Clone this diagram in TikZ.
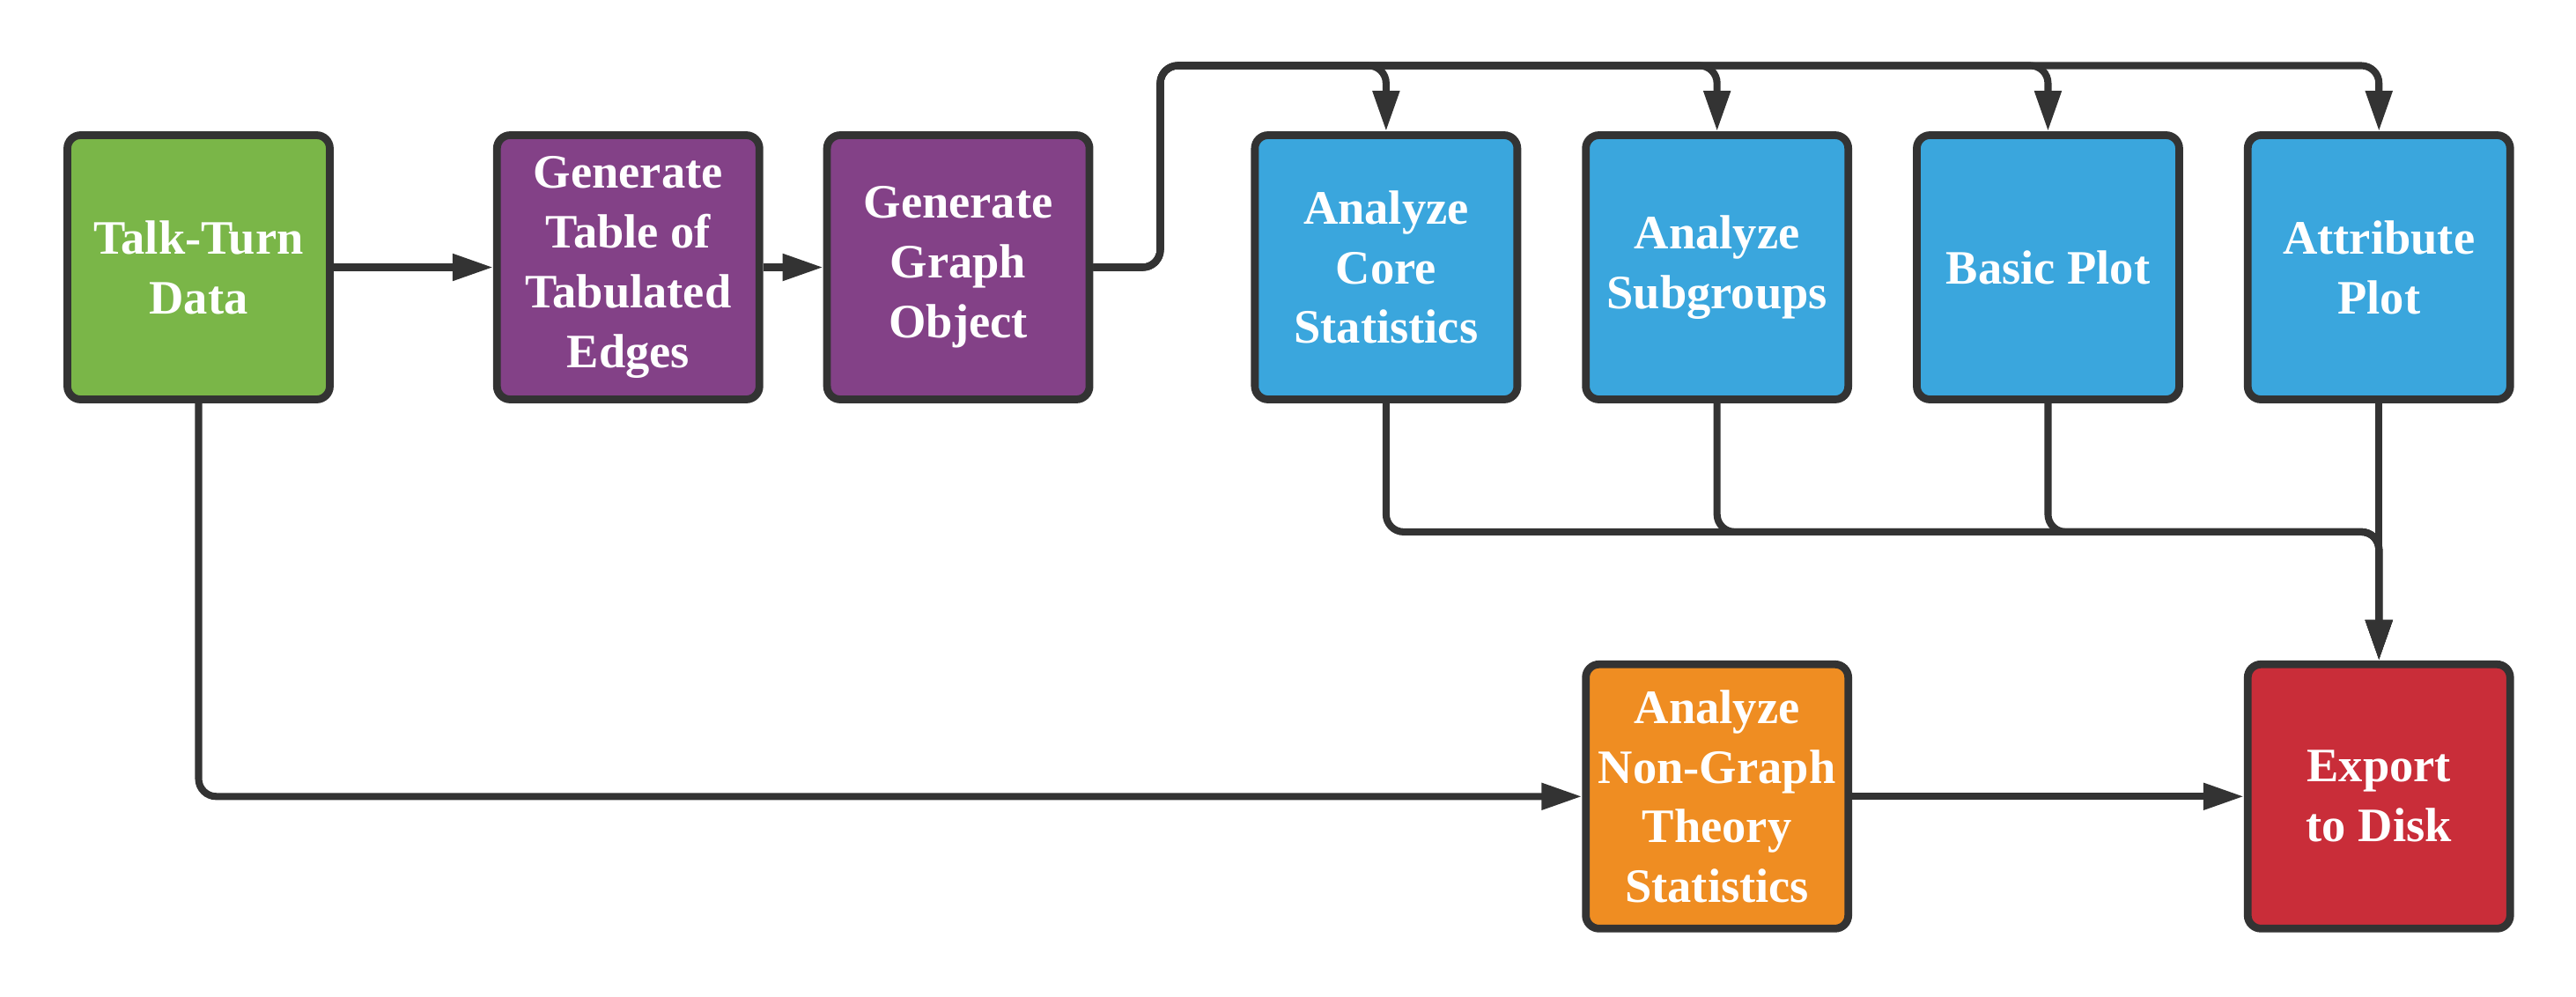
\documentclass[tikz,border=0pt]{standalone}
\usepackage{fontspec}
\setmainfont{Liberation Serif}
\usepackage{tikz}
\usetikzlibrary{positioning}
\usetikzlibrary{arrows.meta}
\usetikzlibrary{calc}
\definecolor{linegray}{HTML}{333333}
\definecolor{boxgreen}{HTML}{7AB648}
\definecolor{boxpurple}{HTML}{834187}
\definecolor{boxblue}{HTML}{3AA6DD}
\definecolor{boxorange}{HTML}{EF8D22}
\definecolor{boxred}{HTML}{C92D39}

\begin{document}
\begin{tikzpicture}
          [box/.style={draw=linegray, line width=2.5pt, rounded corners=0.15cm,
                       minimum width=2.98cm, minimum height=3.0cm, align=center,
                       text=white, font=\bfseries\fontsize{15.5}{19.3}\selectfont},
           flow/.style={draw=linegray, line width=2.3pt, rounded corners=0.2cm,
                        -{Triangle[length=0.46cm, width=0.29cm]}}]
          \useasboundingbox (0,0) rectangle (29.25,-11.31);

          \node (talk) [box, fill=boxgreen] at (2.255,-3.035) {Talk-Turn\\Data};
          \node (table) [box, fill=boxpurple, right = 1.81cm of talk] {Generate\\Table of\\Tabulated\\Edges};
          \node (graph) [box, fill=boxpurple, right = 0.68cm of table] {Generate\\Graph\\Object};
          \node (core) [box, fill=boxblue, right = 1.79cm of graph] {Analyze\\Core\\Statistics};
          \node (sub) [box, fill=boxblue, right = 0.69cm of core] {Analyze\\Subgroups};
          \node (basic) [box, fill=boxblue, right = 0.69cm of sub] {Basic Plot};
          \node (attr) [box, fill=boxblue, right = 0.69cm of basic] {Attribute\\Plot};
          \node (nongraph) [box, fill=boxorange, below = 2.92cm of sub] {Analyze\\Non-Graph\\Theory\\Statistics};
          \node (export) [box, fill=boxred, below = 2.92cm of attr] {Export\\to Disk};

          \coordinate (split) at ([xshift=0.76cm, yshift=2.29cm]graph.east);
          \coordinate (join) at ($(attr.south)!0.5!(export.north)$);

          \draw[flow] (talk) -- (table);
          \draw[flow] (table) -- (graph);
          \foreach \target in {core, sub, basic, attr}
            \draw[flow] (graph.east) -| (split) -| (\target.north);
          \foreach \source in {core, sub, basic}
            \draw[flow] (\source.south) |- (join) -- (export.north);
          \draw[flow] (attr.south) -- (export.north);
          \draw[flow] (talk.south) |- (nongraph.west);
          \draw[flow] (nongraph) -- (export);

        \end{tikzpicture}
\end{document}
